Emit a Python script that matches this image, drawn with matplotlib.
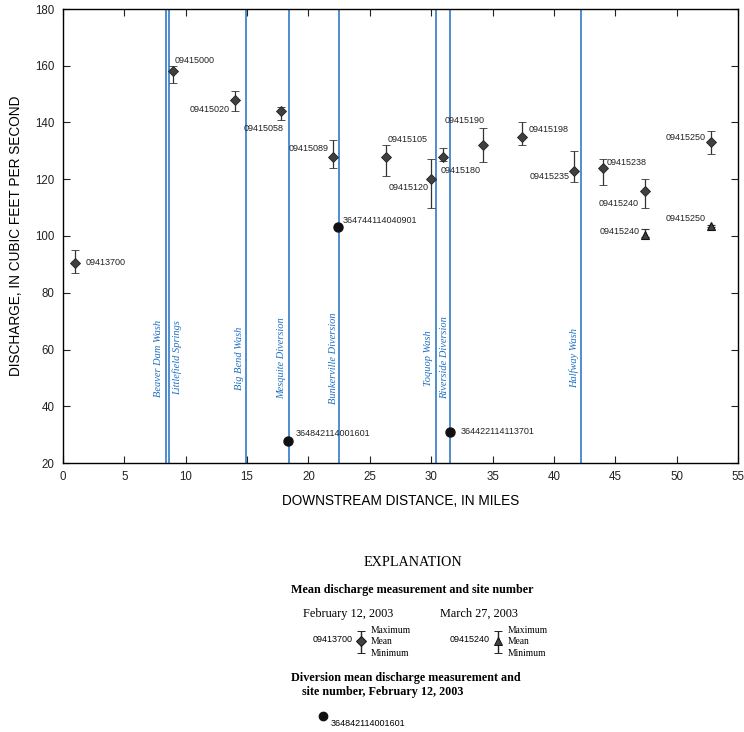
import matplotlib
matplotlib.use("Agg")
import matplotlib.pyplot as plt
import numpy as np

# ---- data ----
feb_sites = ["09413700", "09415000", "09415020", "09415058", "09415089", "09415105",
             "09415120", "09415180", "09415190", "09415198", "09415235", "09415238",
             "09415240", "09415250"]
feb_dist = [1.0, 9.0, 14.0, 17.8, 22.0, 26.3, 30.0, 31.0, 34.2, 37.4, 41.6, 44.0, 47.4, 52.8]
feb_mean = [90.5, 158, 148, 144, 128, 128, 120, 128, 132, 135, 123, 124, 116, 133]
feb_max = [95, 160, 151, 145.5, 134, 132, 127, 131, 138, 140, 130, 127, 120, 137]
feb_min = [87, 154, 144, 141, 124, 121, 110, 126.5, 126, 132, 119, 118, 110, 129]

mar_sites = ["09415240", "09415250"]
mar_dist = [47.4, 52.8]
mar_mean = [100.5, 103.5]
mar_max = [102.5, 104]
mar_min = [99.5, 103]

div_sites = ["364842114001601", "364744114040901", "364422114113701"]
div_dist = [18.3, 22.4, 31.5]
div_mean = [27.6, 103.3, 31.1]

trib_names = ["Beaver Dam Wash", "Littlefield Springs", "Big Bend Wash", "Mesquite Diversion",
              "Bunkerville Diversion", "Toquop Wash", "Riverside Diversion", "Halfway Wash"]
trib_dist = [8.42, 8.62, 14.9, 18.4, 22.5, 30.4, 31.5, 42.2]

# label offsets (pixels) and alignment
feb_lab = [(10, 0, "left"), (1, 11, "left"), (-5, -10, "right"), (2, -17.5, "right"),
           (-4, 8, "right"), (2, 17, "left"), (-3, -8, "right"), (-3, -14, "left"),
           (2, 25, "right"), (7, 7, "left"), (-4, -6, "right"), (4, 5, "left"),
           (-6, -12.5, "right"), (-5, 4.5, "right")]
mar_lab = [(-5, 3, "right"), (-5, 8, "right")]
div_lab = [(8, 8, "left"), (5, 6, "left"), (11, 0, "left")]
trib_off = [-7.5, 8.5, -6.5, -7, -5.5, -7.5, -5.5, -7]

W, H = 744, 732
fig = plt.figure(figsize=(W / 100, H / 100), dpi=100)
ax = fig.add_axes([63 / W, 1 - 463 / H, (738 - 63) / W, (463 - 9) / H])

BLUE = "#1f6fc5"
GRAY = "#404040"
SANS = "Liberation Sans"
SERIF = "Liberation Serif"

for d in trib_dist:
    ax.axvline(d, color=BLUE, lw=1.1, zorder=1)
for name, d, off in zip(trib_names, trib_dist, trib_off):
    ax.annotate(name, (d, 57), xytext=(off, 0), textcoords="offset pixels",
                rotation=90, ha="center", va="center", color=BLUE,
                fontstyle="italic", family=SERIF, fontsize=7.5)

fm = np.array(feb_mean)
ax.errorbar(feb_dist, feb_mean, yerr=[fm - np.array(feb_min), np.array(feb_max) - fm],
            fmt="D", ms=4.8, mfc=GRAY, mec="#222222", mew=0.6, ecolor="#333333",
            elinewidth=0.9, capsize=3, capthick=0.9, zorder=3)
mm = np.array(mar_mean)
ax.errorbar(mar_dist, mar_mean, yerr=[mm - np.array(mar_min), np.array(mar_max) - mm],
            fmt="^", ms=5.5, mfc=GRAY, mec="#111111", mew=0.8, ecolor="#333333",
            elinewidth=0.9, capsize=3, capthick=0.9, zorder=3)
ax.plot(div_dist, div_mean, "o", ms=6.5, color="#111111", zorder=3)

for s, x, y, (dx, dy, ha) in zip(feb_sites, feb_dist, feb_mean, feb_lab):
    ax.annotate(s, (x, y), xytext=(dx, dy), textcoords="offset pixels", ha=ha,
                va="center", fontsize=6.5, family=SANS, color="#222222")
for s, x, y, (dx, dy, ha) in zip(mar_sites, mar_dist, mar_mean, mar_lab):
    ax.annotate(s, (x, y), xytext=(dx, dy), textcoords="offset pixels", ha=ha,
                va="center", fontsize=6.5, family=SANS, color="#222222")
for s, x, y, (dx, dy, ha) in zip(div_sites, div_dist, div_mean, div_lab):
    ax.annotate(s, (x, y), xytext=(dx, dy), textcoords="offset pixels", ha=ha,
                va="center", fontsize=6.5, family=SANS, color="#222222")

ax.set_xlim(0, 55)
ax.set_ylim(20, 180)
ax.set_xticks(np.arange(0, 56, 5))
ax.set_yticks(np.arange(20, 181, 20))
ax.tick_params(direction="in", length=5, width=0.8, top=True, right=True,
               labelsize=8.3, pad=6, colors="#222222")
for lab in ax.get_xticklabels() + ax.get_yticklabels():
    lab.set_family(SANS)
for sp in ax.spines.values():
    sp.set_linewidth(1.0)
ax.set_xlabel("DOWNSTREAM DISTANCE, IN MILES", family=SANS, fontsize=9.8, labelpad=8)
ax.set_ylabel("DISCHARGE, IN CUBIC FEET PER SECOND", family=SANS, fontsize=9.8, labelpad=9)

# ---- explanation ----
lg = fig.add_axes([0, 0, 1, 1])
lg.set_xlim(0, W)
lg.set_ylim(H, 0)
lg.axis("off")
lg.text(413, 563, "EXPLANATION", family=SERIF, fontsize=10.2, ha="center", va="center")
lg.text(291, 590, "Mean discharge measurement and site number", family=SERIF,
        fontsize=8.7, fontweight="bold", ha="left", va="center")
lg.text(303, 614, "February 12, 2003", family=SERIF, fontsize=8.8, ha="left", va="center")
lg.text(440, 614, "March 27, 2003", family=SERIF, fontsize=8.8, ha="left", va="center")
for xb, code, mk, ms in [(361, "09413700", "D", 4.8), (497.5, "09415240", "^", 5.5)]:
    lg.errorbar([xb], [641], yerr=[[10.5], [11.5]], fmt=mk, ms=ms, mfc=GRAY,
                mec="#111111", mew=0.7, ecolor="#222222", elinewidth=1.0,
                capsize=3, capthick=1.0)
    lg.text(xb - 8, 640, code, family=SANS, fontsize=6.5, ha="right", va="center")
    lg.text(xb + 10, 630.5, "Maximum", family=SERIF, fontsize=6.9, ha="left", va="center")
    lg.text(xb + 10, 641, "Mean", family=SERIF, fontsize=6.9, ha="left", va="center")
    lg.text(xb + 10, 653, "Minimum", family=SERIF, fontsize=6.9, ha="left", va="center")
lg.text(291, 678, "Diversion mean discharge measurement and", family=SERIF,
        fontsize=8.7, fontweight="bold", ha="left", va="center")
lg.text(301.5, 691.5, "site number, February 12, 2003", family=SERIF,
        fontsize=8.7, fontweight="bold", ha="left", va="center")
lg.plot([322.7], [715.7], "o", ms=6, color="#111111")
lg.text(330.5, 723.5, "364842114001601", family=SANS, fontsize=6.5, ha="left", va="center")

fig.savefig("out.png", dpi=100)
